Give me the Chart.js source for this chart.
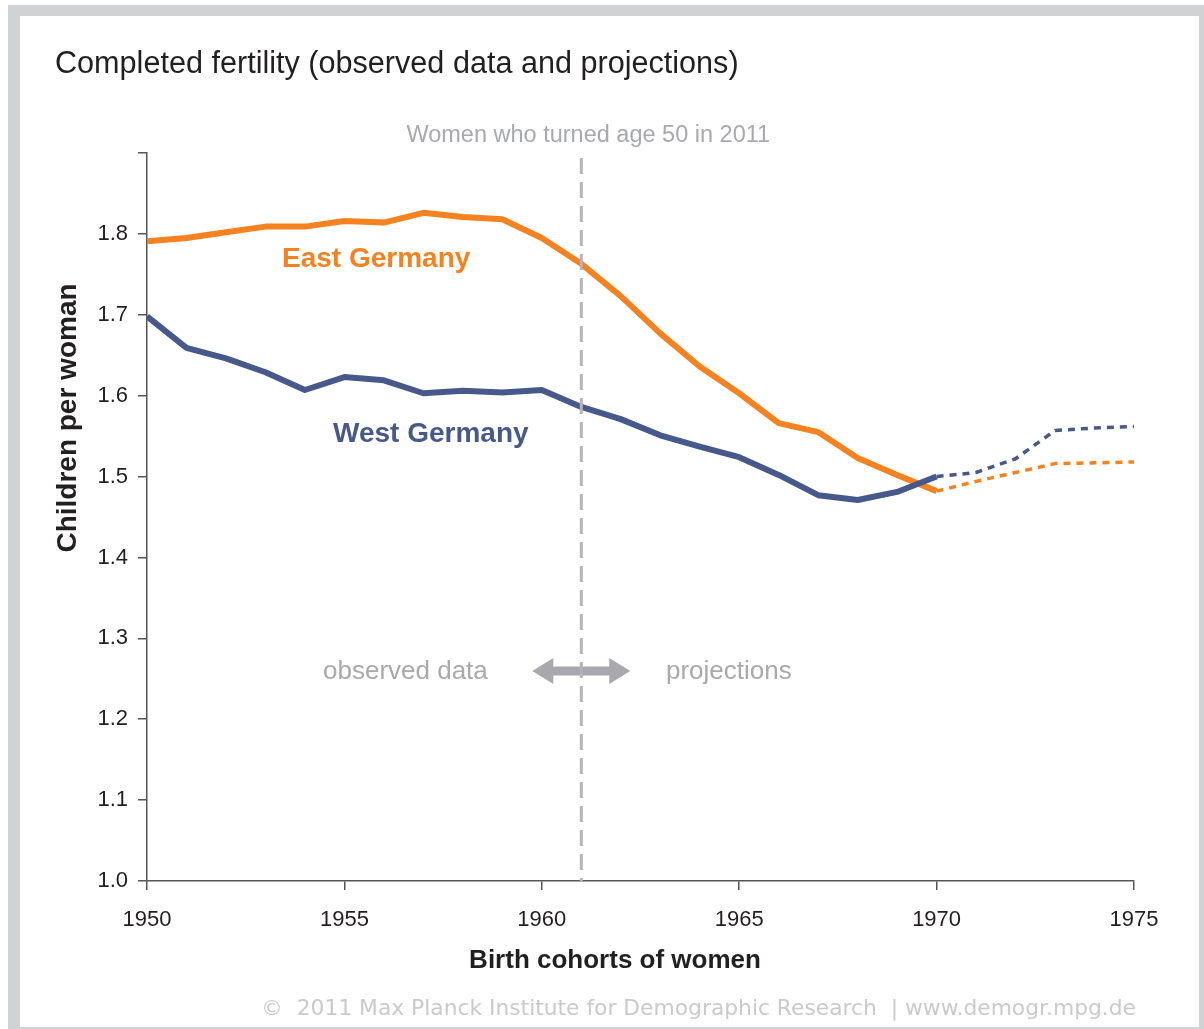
<!DOCTYPE html>
<html>
<head>
<meta charset="utf-8">
<title>Completed fertility</title>
<script src="https://cdn.jsdelivr.net/npm/chart.js@4.4.1/dist/chart.umd.min.js"></script>
<style>
  html, body { margin: 0; padding: 0; background: #fff; }
  #wrap { width: 1204px; height: 1029px; }
</style>
</head>
<body>
<div id="wrap"><canvas id="myChart" width="1204" height="1029"></canvas></div>
<script>
// birth cohorts and completed fertility (children per woman)
const obsYears = [1950, 1951, 1952, 1953, 1954, 1955, 1956, 1957, 1958, 1959, 1960,
                  1961, 1962, 1963, 1964, 1965, 1966, 1967, 1968, 1969, 1970];
const eastObs = [1.791, 1.795, 1.802, 1.809, 1.809, 1.816, 1.814, 1.826, 1.821, 1.818, 1.795,
                 1.763, 1.723, 1.677, 1.636, 1.603, 1.566, 1.555, 1.523, 1.502, 1.482];
const westObs = [1.698, 1.659, 1.646, 1.629, 1.607, 1.623, 1.619, 1.603, 1.606, 1.604, 1.607,
                 1.586, 1.571, 1.551, 1.537, 1.524, 1.502, 1.477, 1.471, 1.481, 1.500];

const projYears = [1970, 1971, 1972, 1973, 1974, 1975];
const eastProj = [1.482, 1.494, 1.505, 1.516, 1.517, 1.518];
const westProj = [1.500, 1.505, 1.522, 1.557, 1.560, 1.562];

const xTicks = [1950, 1955, 1960, 1965, 1970, 1975];
const yTicks = [1.0, 1.1, 1.2, 1.3, 1.4, 1.5, 1.6, 1.7, 1.8, 1.9];
const refCohort = 1961; // women who turned 50 in 2011

const ORANGE = '#f58220';
const BLUE = '#46598a';
const GREY = '#a7a9ac';
const DARK = '#231f20';

const toPoints = (xs, ys) => xs.map((x, i) => ({ x: x, y: ys[i] }));

// frame, texts, reference line and arrow
const decor = {
    id: 'decor',
    beforeDraw(chart) {
        const c = chart.ctx;
        c.save();
        c.fillStyle = '#fff';
        c.fillRect(0, 0, chart.width, chart.height);
        c.fillStyle = '#d1d2d4';
        c.fillRect(8, 5, chart.width - 8, chart.height - 5);
        c.fillStyle = '#fff';
        c.fillRect(20, 16, 1179, 1011);
        c.restore();
    },
    afterDatasetsDraw(chart) {
        const c = chart.ctx;
        const x = chart.scales.x;
        const area = chart.chartArea;
        const rx = x.getPixelForValue(refCohort);
        c.save();

        // arrow observed <-> projections
        const ay = 671;
        c.fillStyle = GREY;
        c.beginPath();
        c.moveTo(rx - 49, ay);
        c.lineTo(rx - 28, ay - 13);
        c.lineTo(rx - 28, ay - 4.5);
        c.lineTo(rx + 28, ay - 4.5);
        c.lineTo(rx + 28, ay - 13);
        c.lineTo(rx + 49, ay);
        c.lineTo(rx + 28, ay + 13);
        c.lineTo(rx + 28, ay + 4.5);
        c.lineTo(rx - 28, ay + 4.5);
        c.lineTo(rx - 28, ay + 13);
        c.closePath();
        c.fill();

        // vertical dashed reference line
        c.strokeStyle = '#b3b4b7';
        c.lineWidth = 3;
        c.setLineDash([16, 8]);
        c.beginPath();
        c.moveTo(rx, 158);
        c.lineTo(rx, area.bottom);
        c.stroke();
        c.setLineDash([]);

        c.textBaseline = 'alphabetic';
        c.fillStyle = DARK;
        c.textAlign = 'left';
        c.font = '30.6px "Liberation Sans", Arial, sans-serif';
        c.fillText('Completed fertility (observed data and projections)', 55, 73);

        c.fillStyle = GREY;
        c.textAlign = 'center';
        c.font = '23.5px "Liberation Sans", Arial, sans-serif';
        c.fillText('Women who turned age 50 in 2011', rx + 7, 142);

        c.textAlign = 'left';
        c.font = '26px "Liberation Sans", Arial, sans-serif';
        c.fillText('observed data', 323, 679);
        c.fillText('projections', 666, 679);

        c.font = 'bold 28px "Liberation Sans", Arial, sans-serif';
        c.fillStyle = ORANGE;
        c.fillText('East Germany', 282, 267);
        c.fillStyle = BLUE;
        c.fillText('West Germany', 333, 442);

        // axis titles
        c.fillStyle = DARK;
        c.textAlign = 'center';
        c.font = 'bold 26px "Liberation Sans", Arial, sans-serif';
        c.fillText('Birth cohorts of women', 615, 968);
        c.save();
        c.translate(76, 418);
        c.rotate(-Math.PI / 2);
        c.font = 'bold 28px "Liberation Sans", Arial, sans-serif';
        c.fillText('Children per woman', 0, 0);
        c.restore();

        c.fillStyle = '#c9cacc';
        c.textAlign = 'right';
        c.font = '21.8px "DejaVu Sans", Verdana, sans-serif';
        c.fillText('\u00a9  2011 Max Planck Institute for Demographic Research  | www.demogr.mpg.de', 1136, 1015);

        c.restore();
    }
};

const ctx = document.getElementById('myChart').getContext('2d');

new Chart(ctx, {
    type: 'line',
    data: {
        datasets: [{
            label: 'West Germany',
            data: toPoints(obsYears, westObs),
            borderColor: BLUE,
            borderWidth: 6
        }, {
            label: 'West Germany (projection)',
            data: toPoints(projYears, westProj),
            borderColor: BLUE,
            borderWidth: 3.5,
            borderDash: [7, 6]
        }, {
            label: 'East Germany',
            data: toPoints(obsYears, eastObs),
            borderColor: ORANGE,
            borderWidth: 6
        }, {
            label: 'East Germany (projection)',
            data: toPoints(projYears, eastProj),
            borderColor: ORANGE,
            borderWidth: 3.5,
            borderDash: [7, 6]
        }]
    },
    options: {
        responsive: false,
        animation: false,
        devicePixelRatio: 1,
        layout: {
            padding: { left: 20, right: 70, top: 153, bottom: 88 }
        },
        elements: {
            point: { radius: 0, hoverRadius: 0 },
            line: { tension: 0, borderJoinStyle: 'round', fill: false }
        },
        scales: {
            x: {
                type: 'linear',
                min: xTicks[0],
                max: xTicks[xTicks.length - 1],
                afterBuildTicks: scale => { scale.ticks = xTicks.map(v => ({ value: v })); },
                afterFit: scale => {
                    scale.height = 60;
                    scale.paddingLeft = 0;
                    scale.paddingRight = 0;
                },
                grid: { drawOnChartArea: false, drawTicks: true, tickLength: 9, color: '#555', lineWidth: 1.5 },
                border: { display: true, color: '#555', width: 1.5 },
                ticks: {
                    color: DARK,
                    padding: 17,
                    maxRotation: 0,
                    font: { family: '"Liberation Sans", Arial, sans-serif', size: 22 },
                    callback: v => String(v)
                }
            },
            y: {
                type: 'linear',
                min: yTicks[0],
                max: yTicks[yTicks.length - 1],
                afterBuildTicks: scale => { scale.ticks = yTicks.map(v => ({ value: v })); },
                afterFit: scale => {
                    scale.width = 127;
                    scale.paddingTop = 0;
                    scale.paddingBottom = 0;
                },
                grid: { drawOnChartArea: false, drawTicks: true, tickLength: 9, color: '#555', lineWidth: 1.5 },
                border: { display: true, color: '#555', width: 1.5 },
                ticks: {
                    color: DARK,
                    padding: 10,
                    font: { family: '"Liberation Sans", Arial, sans-serif', size: 22 },
                    callback: v => (v > 1.85 ? '' : v.toFixed(1))
                }
            }
        },
        plugins: {
            legend: { display: false },
            tooltip: { enabled: false },
            title: { display: false }
        }
    },
    plugins: [decor]
});
</script>
</body>
</html>
